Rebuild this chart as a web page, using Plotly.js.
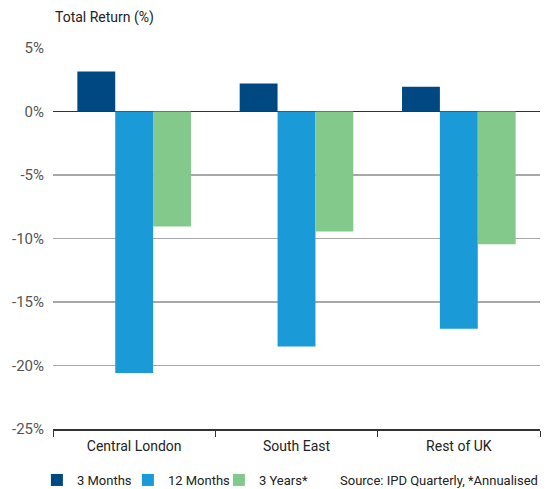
<!DOCTYPE html>
<html><head><meta charset="utf-8">
<script src="https://cdn.plot.ly/plotly-3.0.1.min.js"></script>
<style>html,body{margin:0;padding:0;background:#fff}</style>
</head><body>
<div id="chart" style="width:555px;height:489px"></div>
<script>
const categories = ["Central London", "South East", "Rest of UK"];
const months3 = [3.15, 2.2, 1.95];
const months12 = [-20.6, -18.5, -17.1];
const years3 = [-9.05, -9.45, -10.45];
const tickVals = [5, 0, -5, -10, -15, -20, -25];
const tickText = ["5%", "0%", "-5%", "-10%", "-15%", "-20%", "-25%"];

const fontFam = "Roboto, 'Liberation Sans', Arial, sans-serif";
const traces = [
  {type: "bar", name: "3 Months", x: categories, y: months3, marker: {color: "#004882"}},
  {type: "bar", name: "12 Months", x: categories, y: months12, marker: {color: "#1a9ad6"}},
  {type: "bar", name: "3 Years*", x: categories, y: years3, marker: {color: "#83c98b"}}
];
const layout = {
  width: 555, height: 489,
  margin: {l: 53, r: 15, t: 48, b: 60, autoexpand: false},
  paper_bgcolor: "#fff", plot_bgcolor: "#fff",
  font: {family: fontFam, size: 15, color: "#333"},
  barmode: "group", bargap: 0.3, bargroupgap: 0,
  showlegend: true,
  legend: {orientation: "h", xref: "container", yref: "container", x: 0.0665, xanchor: "left",
           y: 9/489, yanchor: "middle", font: {size: 13, color: "#222"}, itemwidth: 30,
           entrywidth: 46, entrywidthmode: "pixels", traceorder: "normal"},
  xaxis: {type: "category", tickson: "boundaries", ticks: "outside", ticklen: 6, tickcolor: "#333",
          showline: true, linecolor: "#333", linewidth: 1.5, showgrid: false, automargin: false,
          ticklabelstandoff: 4,
          tickfont: {size: 14, color: "#222"}, fixedrange: true},
  yaxis: {range: [-25, 5], tickvals: tickVals, ticktext: tickText, showgrid: true, automargin: false,
          gridcolor: "#a8a8a8", gridwidth: 1.5, zeroline: true, zerolinecolor: "#333", zerolinewidth: 1.5,
          showline: false, ticks: "", ticklabelstandoff: 8, tickfont: {size: 15, color: "#555"}, fixedrange: true},
  annotations: [
    {text: "Total Return (%)", xref: "paper", yref: "paper", x: 0, y: (429 - 17) / 381, xanchor: "left", yanchor: "middle",
     showarrow: false, font: {size: 14, color: "#222"}},
    {text: "Source: IPD Quarterly, *Annualised", xref: "paper", yref: "paper", x: 1, y: (429 - 480) / 381,
     xanchor: "right", yanchor: "middle", showarrow: false, font: {size: 13, color: "#222"}}
  ]
};
Plotly.newPlot("chart", traces, layout, {displayModeBar: false, staticPlot: true});
</script>
</body></html>
